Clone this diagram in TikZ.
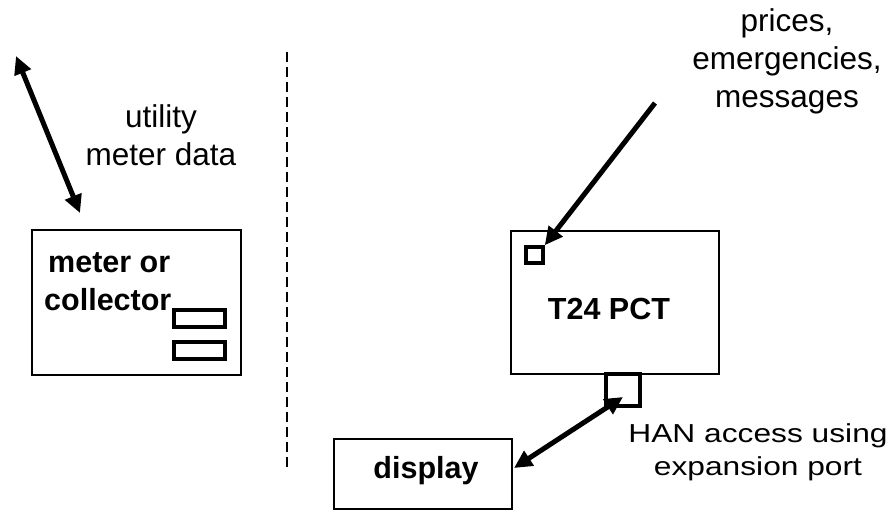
\documentclass[tikz,border=0pt]{standalone}
\usepackage{fontspec}
\setmainfont{Liberation Sans}
\newfontfamily\widefont[FakeStretch=1.22]{Liberation Sans}
\usetikzlibrary{arrows.meta,calc}

\begin{document}
\begin{tikzpicture}[x=1pt,y=-1pt]
	\path [use as bounding box] (0,0) rectangle (893,511);
	\tikzstyle{box} = [draw, line width=2pt, inner sep=0pt]
	\tikzstyle{slot} = [draw, line width=3.5pt, inner sep=0pt]
	\tikzstyle{title} = [font=\fontsize{30.5}{38}\selectfont\bfseries, inner sep=0pt]
	\tikzstyle{lbl} = [font=\fontsize{31.5}{38}\selectfont, align=center, inner sep=0pt]
	\tikzstyle{link} = [line width=5pt, {Triangle[length=18pt,width=17pt]}-{Triangle[length=18pt,width=17pt]}]
	% boxes
	\node[box, minimum width=209, minimum height=145] (M) at (136.5,302.5) {};
	\node[box, minimum width=208, minimum height=143] (T) at (615,302.5) {};
	\node[box, minimum width=178, minimum height=70] (D) at (423,474) {};
	\node[slot, minimum width=51, minimum height=17] (S1) at (199.5,318.5) {};
	\node[slot, minimum width=51, minimum height=17] (S2) at (199.5,350.5) {};
	\node[slot, minimum width=17, minimum height=16] (R) at (534.5,255) {};
	\node[slot, minimum width=34, minimum height=32] (P) at (623,390) {};
	% texts (base = last line)
	\node[title, align=left, anchor=base west] at (44,310) {\hspace*{4pt}meter or\\collector};
	\node[title, anchor=base] at (609,319) {T24 PCT};
	\node[title, anchor=base] at (426,478) {display};
	\node[lbl, anchor=base] at (161,165) {utility\\meter data};
	\node[lbl, anchor=base] at (787,107) {prices,\\emergencies,\\messages};
	\node[lbl, anchor=base, font=\widefont\fontsize{26}{33}\selectfont] at (758,475) {HAN access using\\expansion port};
	% links
	\coordinate (W) at (16,56);
	\coordinate (Mi) at (80,213);
	\coordinate (F) at (655,103);
	\draw[link] (W) -- (Mi);
	\draw[line width=5pt, -{Triangle[length=18pt,width=17pt]}] (F) -- (R.north east);
	\draw[link] ($(D.east)+(1,-6)$) -- ($(P.center)+(0,7)$);
	\draw[line width=2pt, dash pattern=on 10pt off 5pt] (287,52) -- (287,470);
\end{tikzpicture}
\end{document}
